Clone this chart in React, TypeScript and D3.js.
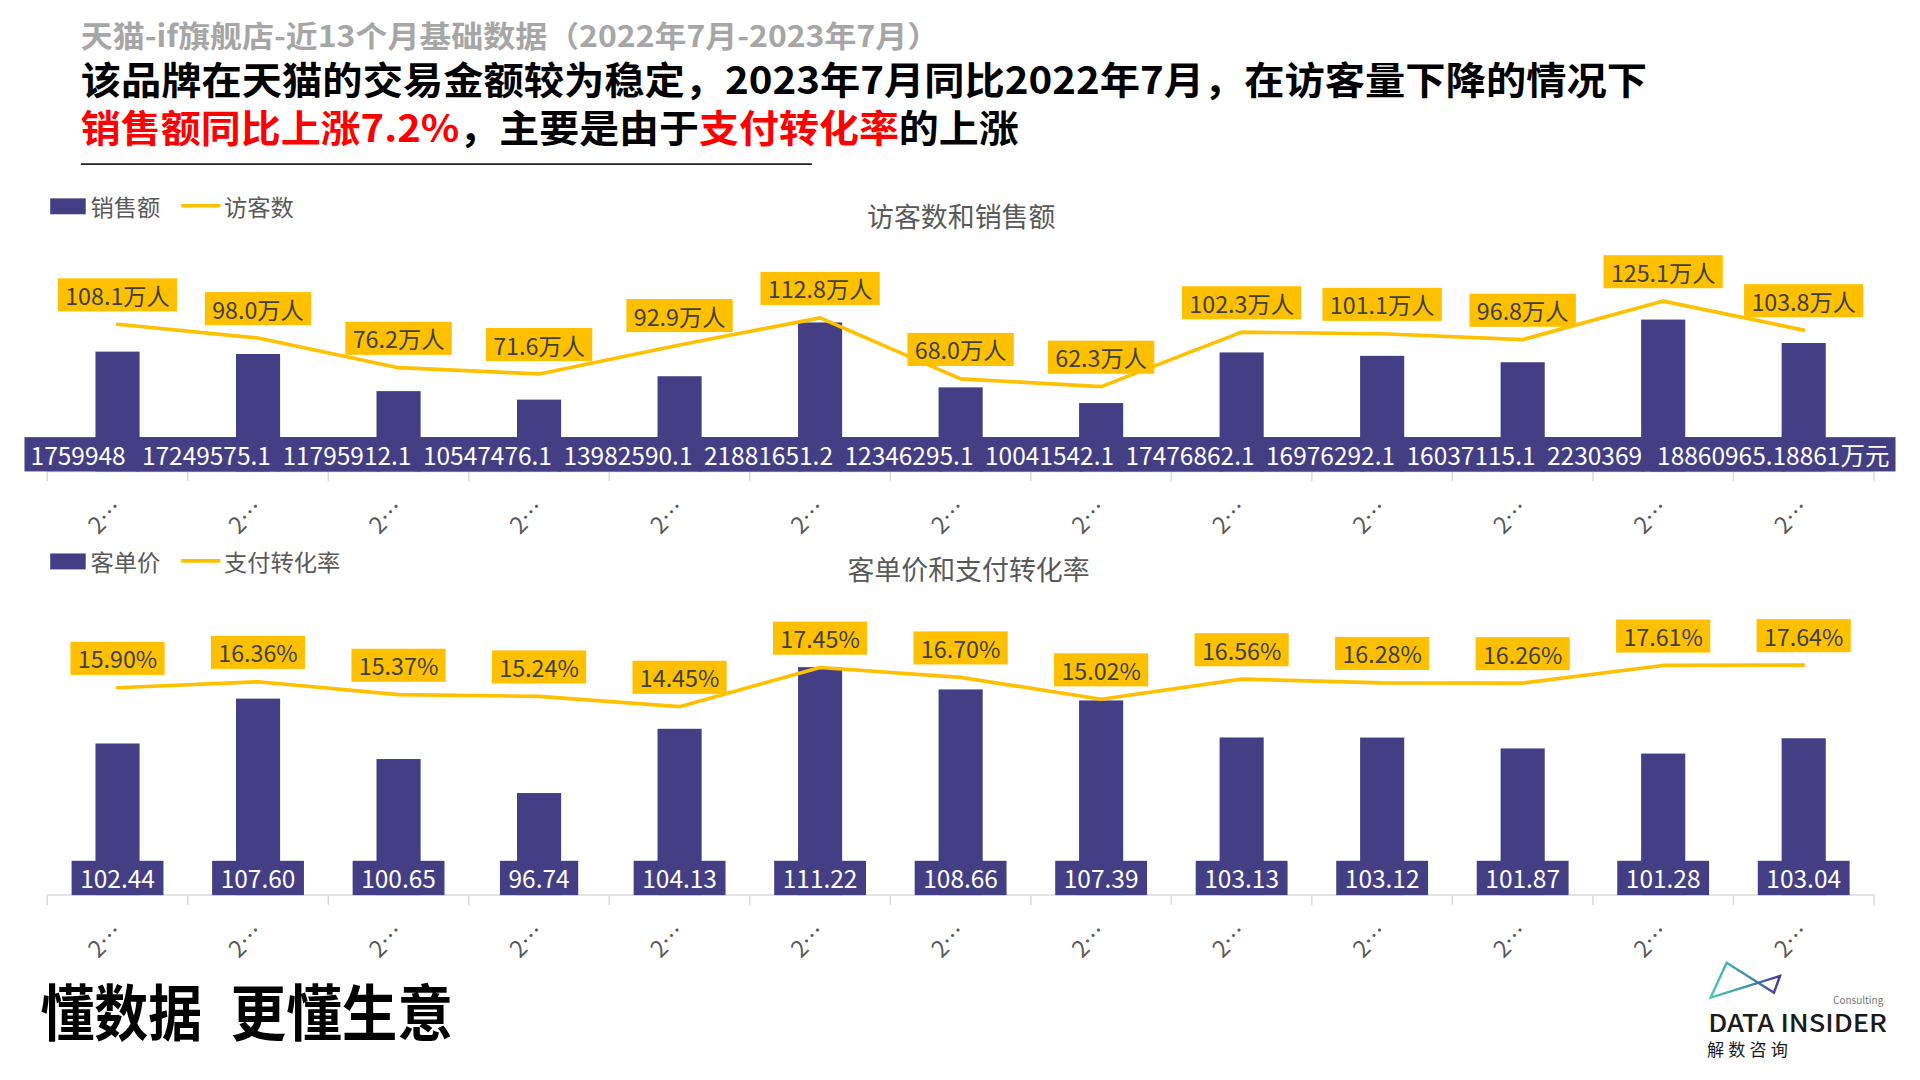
import React, { useEffect, useRef } from 'react';
import * as d3 from 'd3';

// ---- data ----
const months = [
  '2022年7月', '2022年8月', '2022年9月', '2022年10月', '2022年11月', '2022年12月',
  '2023年1月', '2023年2月', '2023年3月', '2023年4月', '2023年5月', '2023年6月', '2023年7月',
];
const salesAmount = [17599485, 17249575, 11795912, 10547476, 13982590, 21881651, 12346295, 10041542, 17476862, 16976292, 16037115, 22303692, 18860965];
const visitorsWan = [108.1, 98.0, 76.2, 71.6, 92.9, 112.8, 68.0, 62.3, 102.3, 101.1, 96.8, 125.1, 103.8];
const unitPrice = [102.44, 107.6, 100.65, 96.74, 104.13, 111.22, 108.66, 107.39, 103.13, 103.12, 101.87, 101.28, 103.04];
const conversionRate = [15.9, 16.36, 15.37, 15.24, 14.45, 17.45, 16.7, 15.02, 16.56, 16.28, 16.26, 17.61, 17.64];

const subTitle = '天猫-if旗舰店-近13个月基础数据（2022年7月-2023年7月）';
const headline1 = '该品牌在天猫的交易金额较为稳定，2023年7月同比2022年7月，在访客量下降的情况下';
const headline2Parts = [
  { t: '销售额同比上涨7.2%', red: true },
  { t: '，主要是由于', red: false },
  { t: '支付转化率', red: true },
  { t: '的上涨', red: false },
];
const sloganParts = ['懂数据', ' 更懂生意'];

const FONT = '"Noto Sans CJK SC", "Noto Sans", sans-serif';
const NAVY = '#443f84';
const GOLD = '#ffc000';
const GREY = '#595959';

export default function App() {
  const ref = useRef<SVGSVGElement>(null);

  useEffect(() => {
    const svg = d3.select(ref.current!);
    svg.selectAll('*').remove();
    const W = 1568, H = 882;
    svg.append('rect').attr('width', W).attr('height', H).attr('fill', '#ffffff');

    // ---- headings ----
    svg.append('text').attr('x', 66).attr('y', 38).attr('font-family', FONT).attr('font-weight', 700)
      .attr('font-size', 24).attr('fill', '#a6a6a6').attr('textLength', 701).attr('lengthAdjust', 'spacingAndGlyphs')
      .text(subTitle);
    svg.append('text').attr('x', 66).attr('y', 77).attr('font-family', FONT).attr('font-weight', 700)
      .attr('font-size', 31).attr('fill', '#000').attr('textLength', 1279).attr('lengthAdjust', 'spacingAndGlyphs')
      .text(headline1);
    const h2 = svg.append('text').attr('x', 66).attr('y', 116).attr('font-family', FONT).attr('font-weight', 700)
      .attr('font-size', 31).attr('textLength', 766).attr('lengthAdjust', 'spacingAndGlyphs');
    headline2Parts.forEach(p => h2.append('tspan').attr('fill', p.red ? '#ff0000' : '#000').text(p.t));
    svg.append('line').attr('x1', 66).attr('x2', 663).attr('y1', 134).attr('y2', 134)
      .attr('stroke', '#222').attr('stroke-width', 1.5);

    // ---- shared x ----
    const x = d3.scaleBand<string>().domain(months).range([38.6, 1530.4]).paddingInner(0.686).paddingOuter(0.343);
    const cx = (m: string) => (x(m) as number) + x.bandwidth() / 2;
    const bounds = months.map(m => cx(m) - x.step() / 2).concat([cx(months[months.length - 1]) + x.step() / 2]);

    const legend = (y: number, barName: string, lineName: string) => {
      const g = svg.append('g');
      g.append('rect').attr('x', 41).attr('y', y - 6).attr('width', 29).attr('height', 13).attr('fill', NAVY);
      g.append('text').attr('x', 74).attr('y', y).attr('dominant-baseline', 'central').attr('font-family', FONT)
        .attr('font-size', 19).attr('fill', GREY).text(barName);
      g.append('line').attr('x1', 148).attr('x2', 180).attr('y1', y).attr('y2', y).attr('stroke', GOLD).attr('stroke-width', 3);
      g.append('text').attr('x', 183).attr('y', y).attr('dominant-baseline', 'central').attr('font-family', FONT)
        .attr('font-size', 19).attr('fill', GREY).text(lineName);
    };

    const axis = (y: number, labelY: number) => {
      const g = svg.append('g');
      g.append('line').attr('x1', bounds[0]).attr('x2', bounds[bounds.length - 1]).attr('y1', y).attr('y2', y)
        .attr('stroke', '#d9d9d9').attr('stroke-width', 1.2);
      bounds.forEach(b => g.append('line').attr('x1', b).attr('x2', b).attr('y1', y).attr('y2', y + 8)
        .attr('stroke', '#d9d9d9').attr('stroke-width', 1.2));
      months.forEach(m => {
        const px = cx(m) - 11;
        g.append('text').attr('x', px).attr('y', labelY).attr('text-anchor', 'middle').attr('dominant-baseline', 'central')
          .attr('transform', `rotate(-45 ${px} ${labelY})`).attr('font-family', FONT).attr('font-size', 19)
          .attr('fill', GREY).text(m.slice(0, 1) + '…');
      });
    };

    const lineLabels = (pts: [number, number][], texts: string[]) => {
      pts.forEach((p, i) => {
        const g = svg.append('g');
        const rect = g.append('rect');
        const t = g.append('text').attr('x', p[0]).attr('y', p[1] - 24).attr('text-anchor', 'middle')
          .attr('dominant-baseline', 'central').attr('font-family', FONT).attr('font-size', 19).attr('fill', '#404040')
          .text(texts[i]);
        const w = (t.node() as SVGTextElement).getComputedTextLength() + 12;
        rect.attr('x', p[0] - w / 2).attr('y', p[1] - 24 - 13.5).attr('width', w).attr('height', 27).attr('fill', GOLD);
      });
    };

    // ---- chart 1: visitors & sales ----
    legend(168, '销售额', '访客数');
    svg.append('text').attr('x', 785).attr('y', 176).attr('text-anchor', 'middle').attr('dominant-baseline', 'central')
      .attr('font-family', FONT).attr('font-size', 22).attr('fill', GREY).text('访客数和销售额');

    const base1 = 385;
    const ySales = d3.scaleLinear().domain([0, 25e6]).range([base1, 246]);
    const yVis = d3.scaleLinear().domain([0, 125]).range([base1, 246]);
    axis(base1, 421);

    svg.append('g').selectAll('rect').data(months).join('rect')
      .attr('x', m => x(m) as number).attr('width', x.bandwidth())
      .attr('y', (_, i) => ySales(salesAmount[i])).attr('height', (_, i) => base1 - ySales(salesAmount[i]))
      .attr('fill', NAVY);

    // bar value labels on dark band: each label box is drawn over the previous one,
    // so only the part of the text before the next box stays visible.
    const labels = salesAmount.map(v => `${v}.${Math.round(v / 1000)}万元`);
    const meas = svg.append('text').attr('font-family', FONT).attr('font-size', 20);
    const measure = (s: string) => { meas.text(s); return (meas.node() as SVGTextElement).getComputedTextLength(); };
    const lefts = months.map((m, i) => {
      const w = measure(labels[i]) + 10;
      return { left: Math.max(20, Math.min(1548 - w, cx(m) - w / 2)), w };
    });
    months.forEach((m, i) => {
      const { left, w } = lefts[i];
      let s = labels[i];
      if (i < months.length - 1) {
        const limit = lefts[i + 1].left - (left + 5) - 1;
        while (s.length > 1 && measure(s) > limit) s = s.slice(0, -1);
      }
      const g = svg.append('g');
      g.append('rect').attr('x', left).attr('y', 357).attr('width', w).attr('height', 28).attr('fill', NAVY);
      g.append('text').attr('x', left + 5).attr('y', 371).attr('dominant-baseline', 'central').attr('font-family', FONT)
        .attr('font-size', 20).attr('fill', '#ffffff').text(s);
    });
    meas.remove();

    const pts1: [number, number][] = months.map((m, i) => [cx(m), yVis(visitorsWan[i])]);
    svg.append('path').attr('d', d3.line()(pts1) as string).attr('fill', 'none').attr('stroke', GOLD)
      .attr('stroke-width', 3).attr('stroke-linejoin', 'round').attr('stroke-linecap', 'round');
    lineLabels(pts1, visitorsWan.map(v => `${v.toFixed(1)}万人`));

    // ---- chart 2: unit price & conversion ----
    legend(458, '客单价', '支付转化率');
    svg.append('text').attr('x', 791).attr('y', 464).attr('text-anchor', 'middle').attr('dominant-baseline', 'central')
      .attr('font-family', FONT).attr('font-size', 22).attr('fill', GREY).text('客单价和支付转化率');

    const base2 = 731;
    const yPrice = d3.scaleLinear().domain([85, 115]).range([base2, 518]);
    const yConv = d3.scaleLinear().domain([0, 20]).range([base2, 518]);
    axis(base2, 767);

    svg.append('g').selectAll('rect').data(months).join('rect')
      .attr('x', m => x(m) as number).attr('width', x.bandwidth())
      .attr('y', (_, i) => yPrice(unitPrice[i])).attr('height', (_, i) => base2 - yPrice(unitPrice[i]))
      .attr('fill', NAVY);

    months.forEach((m, i) => {
      const g = svg.append('g');
      const rect = g.append('rect');
      const t = g.append('text').attr('x', cx(m)).attr('y', 717).attr('text-anchor', 'middle')
        .attr('dominant-baseline', 'central').attr('font-family', FONT).attr('font-size', 20).attr('fill', '#ffffff')
        .text(unitPrice[i].toFixed(2));
      const w = (t.node() as SVGTextElement).getComputedTextLength() + 14;
      rect.attr('x', cx(m) - w / 2).attr('y', 703).attr('width', w).attr('height', 28).attr('fill', NAVY);
    });

    const pts2: [number, number][] = months.map((m, i) => [cx(m), yConv(conversionRate[i])]);
    svg.append('path').attr('d', d3.line()(pts2) as string).attr('fill', 'none').attr('stroke', GOLD)
      .attr('stroke-width', 3).attr('stroke-linejoin', 'round').attr('stroke-linecap', 'round');
    lineLabels(pts2, conversionRate.map(v => `${v.toFixed(2)}%`));

    // ---- footer ----
    const sl = svg.append('text').attr('y', 846).attr('font-family', FONT).attr('font-weight', 700)
      .attr('font-size', 50).attr('fill', '#000');
    sl.append('tspan').attr('x', 33).attr('textLength', 132).attr('lengthAdjust', 'spacingAndGlyphs').text(sloganParts[0]);
    sl.append('tspan').attr('x', 178).attr('textLength', 192).attr('lengthAdjust', 'spacingAndGlyphs').text(sloganParts[1]);

    const defs = svg.append('defs');
    const grad = defs.append('linearGradient').attr('id', 'logoGrad').attr('x1', '0%').attr('x2', '100%');
    grad.append('stop').attr('offset', '0%').attr('stop-color', '#4fc7b2');
    grad.append('stop').attr('offset', '55%').attr('stop-color', '#3f8fb0');
    grad.append('stop').attr('offset', '100%').attr('stop-color', '#4b3596');
    svg.append('path').attr('d', 'M1410.1,786.2 L1397,814.7 L1453.6,797.1 L1448.7,810.7 Z')
      .attr('fill', 'none').attr('stroke', 'url(#logoGrad)').attr('stroke-width', 2).attr('stroke-linejoin', 'miter');
    svg.append('text').attr('x', 1497).attr('y', 820).attr('font-family', FONT).attr('font-size', 8.5)
      .attr('fill', '#777').attr('textLength', 41).attr('lengthAdjust', 'spacingAndGlyphs').text('Consulting');
    svg.append('text').attr('x', 1395).attr('y', 843).attr('font-family', FONT).attr('font-weight', 500)
      .attr('font-size', 20).attr('fill', '#1a1a1a').attr('textLength', 146).attr('lengthAdjust', 'spacingAndGlyphs')
      .text('DATA INSIDER');
    svg.append('text').attr('x', 1394).attr('y', 862).attr('font-family', FONT).attr('font-size', 14)
      .attr('fill', '#1a1a1a').attr('textLength', 66).attr('lengthAdjust', 'spacing').text('解数咨询');
  }, []);

  return (
    <svg
      ref={ref}
      width={1920}
      height={1080}
      viewBox="0 0 1568 882"
      style={{ position: 'absolute', left: 0, top: 0, display: 'block' }}
    />
  );
}
